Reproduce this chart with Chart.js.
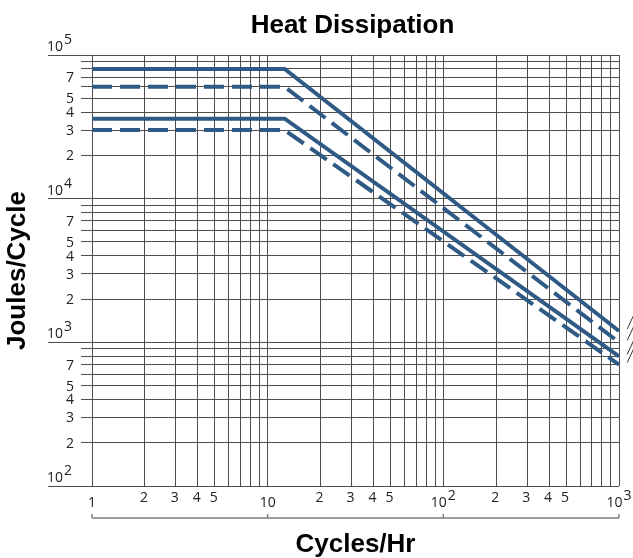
<!DOCTYPE html>
<html>
<head>
<meta charset="utf-8">
<script src="https://cdn.jsdelivr.net/npm/chart.js@4.4.1/dist/chart.umd.min.js"></script>
<style>
  html, body { margin: 0; padding: 0; background: #fff; }
</style>
</head>
<body>
<canvas id="chart" width="633" height="558"></canvas>
<script>
// Cycles per hour: start, knee, end of scale, end of the short stub past it
const cyclesPerHr = [1, 12.5, 1000, 1100];

// Joules per cycle for each curve at those points
const solidHigh  = [80000, 80000, 1200, 1200];
const dashedHigh = [60000, 60000, 1000, 1000];
const solidLow   = [36000, 36000, 800, 800];
const dashedLow  = [30000, 30000, 700, 700];

// Log grid: decades plus the 1..9 steps inside each one
const xDecades = [1, 10, 100, 1000];
const yDecades = [100, 1000, 10000, 100000];
const gridSteps = [1, 2, 3, 4, 5, 6, 7, 8, 9];

// Steps that get a number printed next to them
const xLabelSteps = [2, 3, 4, 5];
const yLabelSteps = [2, 3, 4, 5, 7];

const BLUE = '#2f5a85';
const GRID = '#4d4d4d';
const TICK_FONT = '14px "Open Sans", sans-serif';
const TITLE_FONT = 'bold 26px "Liberation Sans", Arial, sans-serif';

function gridValues(decades) {
  const out = [];
  decades.forEach((d, i) => {
    if (i === decades.length - 1) { out.push(d); return; }
    gridSteps.forEach(s => out.push(d * s));
  });
  return out;
}

function points(ys) {
  return cyclesPerHr.map((x, i) => ({ x, y: ys[i] }));
}

// snap to the middle of a pixel like the library does for 1px grid lines
const crisp = p => Math.round(p - 0.5) + 0.5;

// "10" with its exponent raised, drawn from a left edge
function drawPower(ctx, exp, left, baseline) {
  ctx.textAlign = 'left';
  ctx.fillText('10', left, baseline);
  const w = ctx.measureText('10').width;
  ctx.fillText(String(exp), left + w + 1, baseline - 7);
  return w + 1 + ctx.measureText(String(exp)).width;
}

const axisDecor = {
  id: 'axisDecor',
  afterDatasetsDraw(chart) {
    const { ctx } = chart;
    ctx.save();
    ctx.strokeStyle = '#333';
    ctx.lineWidth = 1;
    // short leader lines off the end of each curve
    chart.data.datasets.forEach((ds, i) => {
      const pts = chart.getDatasetMeta(i).data;
      const end = pts[pts.length - 1];
      ctx.beginPath();
      ctx.moveTo(end.x + 1, end.y - 2);
      ctx.lineTo(end.x + 13, end.y - 28);
      ctx.stroke();
    });
    ctx.restore();
  },
  afterDraw(chart) {
    const { ctx, chartArea: area, scales: { x, y } } = chart;
    ctx.save();

    // y grid lines run out past the left edge, decades further
    ctx.strokeStyle = GRID;
    ctx.lineWidth = 1;
    gridValues(yDecades).forEach(v => {
      const py = crisp(y.getPixelForValue(v));
      const start = yDecades.includes(v) ? area.left - 44 : area.left - 11;
      ctx.beginPath();
      ctx.moveTo(start, py);
      ctx.lineTo(area.left, py);
      ctx.stroke();
    });

    ctx.fillStyle = '#222';
    ctx.font = TICK_FONT;

    // y labels
    ctx.textBaseline = 'middle';
    ctx.textAlign = 'right';
    yDecades.forEach((d, i) => {
      if (i === yDecades.length - 1) return;
      yLabelSteps.forEach(s => {
        ctx.fillText(String(s), area.left - 18, y.getPixelForValue(d * s) + 1);
      });
    });
    ctx.textBaseline = 'alphabetic';
    yDecades.forEach(d => {
      drawPower(ctx, Math.round(Math.log10(d)), area.left - 45, y.getPixelForValue(d) - 4);
    });

    // x labels
    ctx.textAlign = 'center';
    xDecades.forEach((d, i) => {
      if (i === xDecades.length - 1) return;
      xLabelSteps.forEach(s => {
        ctx.fillText(String(s), x.getPixelForValue(d * s) - 1, area.bottom + 16);
      });
    });
    xDecades.forEach(d => {
      const px = x.getPixelForValue(d);
      const exp = Math.round(Math.log10(d));
      if (exp < 2) {
        ctx.textAlign = 'center';
        ctx.fillText(String(d), px, area.bottom + 21);
      } else {
        const w = ctx.measureText('10').width + 1 + ctx.measureText(String(exp)).width;
        drawPower(ctx, exp, px - w / 2, area.bottom + 21);
      }
    });

    // bracket under the x labels with a tick at each decade
    const by = area.bottom + 32;
    ctx.strokeStyle = '#808080';
    ctx.lineWidth = 1.5;
    ctx.beginPath();
    ctx.moveTo(area.left, by);
    ctx.lineTo(area.right, by);
    xDecades.forEach(d => {
      const px = x.getPixelForValue(d);
      ctx.moveTo(px, by);
      ctx.lineTo(px, by - 4);
    });
    ctx.stroke();

    // titles
    const cx = (area.left + area.right) / 2;
    ctx.fillStyle = '#000';
    ctx.font = TITLE_FONT;
    ctx.textAlign = 'center';
    ctx.fillText('Heat Dissipation', cx - 3, 33);
    ctx.fillText('Cycles/Hr', cx, 552);
    ctx.translate(25, (area.top + area.bottom) / 2);
    ctx.rotate(-Math.PI / 2);
    ctx.fillText('Joules/Cycle', 0, 0);

    ctx.restore();
  }
};

const line = (data, dashed) => ({
  data: points(data),
  borderColor: BLUE,
  borderWidth: 4,
  borderDash: dashed ? [20, 8] : [],
  borderJoinStyle: 'miter',
  pointRadius: 0,
  tension: 0,
  clip: false,
});

new Chart(document.getElementById('chart'), {
  type: 'line',
  data: {
    datasets: [
      line(solidHigh, false),
      line(dashedHigh, true),
      line(solidLow, false),
      line(dashedLow, true),
    ],
  },
  options: {
    responsive: false,
    animation: false,
    layout: { padding: { left: 92, right: 14, top: 55, bottom: 72 } },
    plugins: { legend: { display: false }, tooltip: { enabled: false } },
    scales: {
      x: {
        type: 'logarithmic',
        min: 1,
        max: 1000,
        afterBuildTicks: s => { s.ticks = gridValues(xDecades).map(value => ({ value })); },
        ticks: { display: false },
        grid: { color: GRID, lineWidth: 1, drawTicks: false },
        border: { display: false },
      },
      y: {
        type: 'logarithmic',
        min: 100,
        max: 100000,
        afterBuildTicks: s => { s.ticks = gridValues(yDecades).map(value => ({ value })); },
        ticks: { display: false },
        grid: { color: GRID, lineWidth: 1, drawTicks: false },
        border: { display: false },
      },
    },
  },
  plugins: [axisDecor],
});
</script>
</body>
</html>
